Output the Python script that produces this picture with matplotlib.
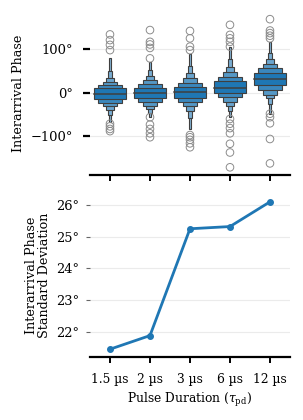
"""Interarrival phase letter-value plots and their spread vs pulse duration."""

import numpy as np
import matplotlib
matplotlib.use("Agg")
import matplotlib.pyplot as plt
from matplotlib.colors import to_rgb
from matplotlib.ticker import FuncFormatter

durations = ["1.5 µs", "2 µs", "3 µs", "6 µs", "12 µs"]

# letter values, innermost level first (degrees)
medians = [-3, -0.5, 1, 12, 31]
lv_low = [
    [-15, -24, -31, -40, -52, -67],
    [-13, -21, -30, -38, -47, -56],
    [-11, -21, -31, -42, -58, -83],
    [-0.5, -10, -21, -30, -42, -56],
    [17, 7, -4, -13, -25, -48],
]
lv_high = [
    [10, 17, 25, 35, 50, 79],
    [12, 20, 29, 38, 52, 71],
    [13, 23, 33, 45, 62, 90],
    [26, 36, 48, 60, 78, 106],
    [46, 56, 67, 77, 92, 117],
]
outliers = [
    [134, 121, 110, 98, -71, -77, -83, -88],
    [144, 117, 111, 103, 79, -56, -73, -83, -93, -102],
    [142, 125, 106, 98, -97, -102, -108, -116, -125],
    [156, 133, 125, 117, 106, -60, -71, -81, -93, -117, -137, -171],
    [169, 143, 137, 131, 125, -48, -56, -70, -106, -162],
]

# standard deviation of the interarrival phase (degrees)
phase_std = [21.45, 21.88, 25.25, 25.32, 26.1]

BLUE = "#1f77b4"
EDGE = "#3f3f3f"


def deg(x, pos):
    return f"{x:g}°".replace("-", "\u2212")


def style_axis(ax):
    for side in ["left", "right", "top"]:
        ax.spines[side].set_visible(False)
    ax.spines["bottom"].set_linewidth(1.6)
    ax.grid(axis="y", color="#ebebeb", linewidth=0.8)
    ax.set_axisbelow(True)
    ax.tick_params(axis="x", length=4.5, width=1.4, color="black", pad=7)
    ax.tick_params(axis="y", labelsize=9.4)
    ax.yaxis.set_major_formatter(FuncFormatter(deg))


def main():
    plt.rcParams["font.family"] = ["DejaVu Serif"]
    plt.rcParams["mathtext.fontset"] = "dejavuserif"
    plt.rcParams["font.size"] = 8.8

    fig = plt.figure(figsize=(3.03, 4.2), dpi=100)
    ax1 = fig.add_axes([0.297, 0.583, 0.66, 0.39])
    ax2 = fig.add_axes([0.297, 0.151, 0.66, 0.386])

    x = np.arange(len(durations))
    rel_widths = [1.0, 0.73, 0.45, 0.25, 0.12, 0.05]
    fade = [0.0, 0.12, 0.24, 0.34, 0.4, 0.45]
    base = np.array(to_rgb(BLUE))
    for i in range(len(durations)):
        # outermost level first so inner boxes sit on top
        for j in reversed(range(len(rel_widths))):
            col = base + (1 - base) * fade[j]
            ax1.bar(x[i], lv_high[i][j] - lv_low[i][j], bottom=lv_low[i][j],
                    width=0.8 * rel_widths[j], color=col, edgecolor=EDGE,
                    linewidth=0.8, zorder=2)
        ax1.plot([x[i] - 0.4, x[i] + 0.4], [medians[i], medians[i]],
                 color=EDGE, linewidth=1.1, zorder=3)
        ax1.scatter(np.full(len(outliers[i]), x[i]), outliers[i], s=30,
                    facecolors="none", edgecolors="#8c8c8c", linewidths=0.7,
                    zorder=2)
    ax1.set_xlim(-0.5, 4.5)
    ax1.set_ylim(-189, 187)
    ax1.set_yticks([-100, 0, 100])
    ax1.set_xticks(x)
    ax1.set_xticklabels([])
    ax1.set_ylabel("Interarrival Phase", fontsize=9.2)
    style_axis(ax1)
    ax1.tick_params(axis="y", length=5, width=1.6, color="black", pad=7)

    ax2.plot(x, phase_std, color=BLUE, linewidth=2, marker="o", markersize=4)
    ax2.set_xlim(-0.5, 4.5)
    ax2.set_xticks(x)
    ax2.set_xticklabels(durations)
    ax2.set_yticks([22, 23, 24, 25, 26])
    ax2.set_ylabel("Interarrival Phase\nStandard Deviation", fontsize=9.2,
                   linespacing=1.0)
    ax2.set_xlabel(r"Pulse Duration ($\tau_{\rm pd}$)")
    style_axis(ax2)
    ax2.tick_params(axis="y", length=3, width=0.8, color="#666666", pad=4.5)

    fig.savefig("out.png", dpi=100)


if __name__ == "__main__":
    main()
